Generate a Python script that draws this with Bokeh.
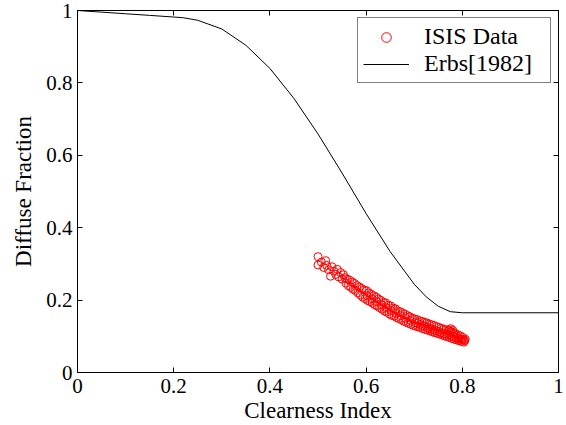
from bokeh.plotting import figure
from bokeh.models import Range1d, FixedTicker, LinearAxis, Legend, LegendItem, CustomJSTickFormatter
from bokeh.embed import file_html
from bokeh.resources import INLINE

# Erbs [1982] correlation curve
erbs_kt = [0.0, 0.05, 0.10, 0.15, 0.20, 0.22, 0.25, 0.30, 0.35, 0.40, 0.45, 0.50,
           0.55, 0.60, 0.65, 0.70, 0.725, 0.75, 0.775, 0.80, 1.0]
erbs_kd = [1.0, 0.9955, 0.991, 0.9865, 0.982, 0.980, 0.973, 0.949, 0.904, 0.840, 0.757, 0.659,
           0.551, 0.439, 0.334, 0.244, 0.209, 0.183, 0.168, 0.165, 0.165]

# ISIS data (clearness index, diffuse fraction)
isis_kt = [0.500, 0.500, 0.507, 0.512, 0.516, 0.518, 0.522, 0.526, 0.529, 0.533, 0.537, 0.540,
           0.543, 0.547, 0.550, 0.553,
           0.556, 0.558, 0.561, 0.563, 0.566, 0.568, 0.571, 0.573, 0.576, 0.578, 0.581, 0.583,
           0.586, 0.588, 0.591, 0.593, 0.596, 0.598, 0.601, 0.603, 0.606, 0.608, 0.611, 0.613,
           0.616, 0.618, 0.621, 0.623, 0.626, 0.628, 0.631, 0.633, 0.636, 0.638, 0.641, 0.643,
           0.646, 0.648, 0.651, 0.653, 0.656, 0.658, 0.661, 0.663, 0.666, 0.668, 0.671, 0.673,
           0.676, 0.678, 0.681, 0.683, 0.686, 0.688, 0.691, 0.693, 0.696, 0.698, 0.701, 0.703,
           0.706, 0.708, 0.711, 0.713, 0.716, 0.718, 0.721, 0.723, 0.726, 0.728, 0.731, 0.733,
           0.736, 0.738, 0.741, 0.743, 0.746, 0.748, 0.751, 0.753, 0.756, 0.758, 0.761, 0.763,
           0.766, 0.768, 0.771, 0.773, 0.776, 0.778, 0.781, 0.783, 0.786, 0.788, 0.791, 0.793,
           0.796, 0.798, 0.801, 0.803, 0.777, 0.782, 0.794, 0.799,
           0.602, 0.612, 0.622, 0.632, 0.642, 0.652, 0.662, 0.672, 0.682, 0.692,
           0.702, 0.707, 0.712, 0.717, 0.722, 0.727, 0.732, 0.737, 0.742, 0.747, 0.752, 0.757,
           0.762, 0.767, 0.772, 0.777, 0.782, 0.787, 0.792, 0.797, 0.802, 0.805, 0.806,
           0.772, 0.776, 0.780]
isis_kd = [0.320, 0.297, 0.305, 0.290, 0.309, 0.296, 0.284, 0.266, 0.292, 0.280, 0.271, 0.285,
           0.264, 0.276, 0.258, 0.270,
           0.262, 0.247, 0.258, 0.240, 0.255, 0.236, 0.250, 0.230, 0.246, 0.226, 0.240, 0.220,
           0.236, 0.214, 0.232, 0.208, 0.228, 0.204, 0.226, 0.199, 0.220, 0.196, 0.216, 0.192,
           0.212, 0.187, 0.208, 0.184, 0.203, 0.179, 0.199, 0.175, 0.194, 0.170, 0.192, 0.167,
           0.186, 0.162, 0.184, 0.158, 0.178, 0.156, 0.176, 0.152, 0.170, 0.149, 0.168, 0.146,
           0.164, 0.142, 0.161, 0.139, 0.157, 0.136, 0.154, 0.133, 0.150, 0.130, 0.148, 0.128,
           0.146, 0.126, 0.143, 0.124, 0.141, 0.121, 0.139, 0.119, 0.137, 0.117, 0.134, 0.115,
           0.132, 0.112, 0.130, 0.110, 0.127, 0.108, 0.125, 0.106, 0.122, 0.104, 0.120, 0.101,
           0.118, 0.099, 0.115, 0.097, 0.113, 0.094, 0.110, 0.092, 0.107, 0.090, 0.104, 0.088,
           0.101, 0.086, 0.097, 0.084, 0.112, 0.109, 0.094, 0.091,
           0.212, 0.204, 0.196, 0.187, 0.179, 0.171, 0.164, 0.157, 0.150, 0.144,
           0.138, 0.136, 0.133, 0.130, 0.128, 0.125, 0.122, 0.120, 0.117, 0.115, 0.113, 0.110,
           0.108, 0.106, 0.104, 0.101, 0.099, 0.097, 0.095, 0.092, 0.090, 0.088, 0.092,
           0.118, 0.121, 0.117]

ticks = [0, 0.2, 0.4, 0.6, 0.8, 1]
tick_labels = ["0", "0.2", "0.4", "0.6", "0.8", "1"]

FONT = "Liberation Serif"

p = figure(width=566, height=425, output_backend="svg", toolbar_location=None,
           x_range=Range1d(0, 1), y_range=Range1d(0, 1),
           min_border_left=77, min_border_right=8, min_border_top=10, min_border_bottom=52,
           x_axis_label="Clearness Index", y_axis_label="Diffuse Fraction")
p.background_fill_color = "white"
p.border_fill_color = "white"
p.outline_line_color = "black"
p.outline_line_width = 1
p.grid.visible = False

fmt = CustomJSTickFormatter(args=dict(tv=ticks, tl=tick_labels), code="""
    for (let i = 0; i < tv.length; i++) {
        if (Math.abs(tv[i] - tick) < 1e-9) { return tl[i]; }
    }
    return String(tick);
""")

for ax in (p.xaxis[0], p.yaxis[0]):
    ax.ticker = FixedTicker(ticks=ticks)
    ax.formatter = fmt
    ax.major_tick_in = 5
    ax.major_tick_out = 0
    ax.minor_tick_line_color = None
    ax.axis_line_color = "black"
    ax.major_tick_line_color = "black"
    ax.major_label_text_font = "Times New Roman"
    ax.major_label_text_font_style = "normal"
    ax.major_label_text_font_size = "21px"
    ax.major_label_text_color = "black"
    ax.axis_label_text_font = FONT
    ax.axis_label_text_font_size = "23px"
    ax.axis_label_text_font_style = "normal"
    ax.axis_label_text_color = "black"
p.xaxis[0].major_label_standoff = 6
p.xaxis[0].axis_label_standoff = 2
p.yaxis[0].major_label_standoff = 5
p.yaxis[0].axis_label_standoff = 7

for loc in ("above", "right"):
    ax = LinearAxis(ticker=FixedTicker(ticks=ticks), major_tick_in=5, major_tick_out=0,
                    minor_tick_line_color=None, major_label_text_color=None,
                    major_label_text_font_size="1px",
                    major_label_standoff=0, axis_line_color="black")
    p.add_layout(ax, loc)

line = p.line(erbs_kt, erbs_kd, line_color="black", line_width=1)
pts = p.scatter(isis_kt, isis_kd, marker="circle", size=8, fill_color=None,
                line_color="red", line_width=1)

legend = Legend(items=[LegendItem(label="ISIS Data", renderers=[pts]),
                       LegendItem(label="Erbs[1982]", renderers=[line])],
                location="top_right")
legend.label_text_font = FONT
legend.label_text_font_size = "24px"
legend.label_text_color = "black"
legend.border_line_color = "black"
legend.border_line_width = 1
legend.background_fill_color = "white"
legend.background_fill_alpha = 1
legend.margin = 7
legend.padding = 5
legend.spacing = 0
legend.glyph_width = 46
legend.label_standoff = 15
legend.label_width = 121
legend.label_height = 24
legend.glyph_height = 24
p.add_layout(legend, "center")

open("out.html", "w").write(file_html(p, INLINE))
